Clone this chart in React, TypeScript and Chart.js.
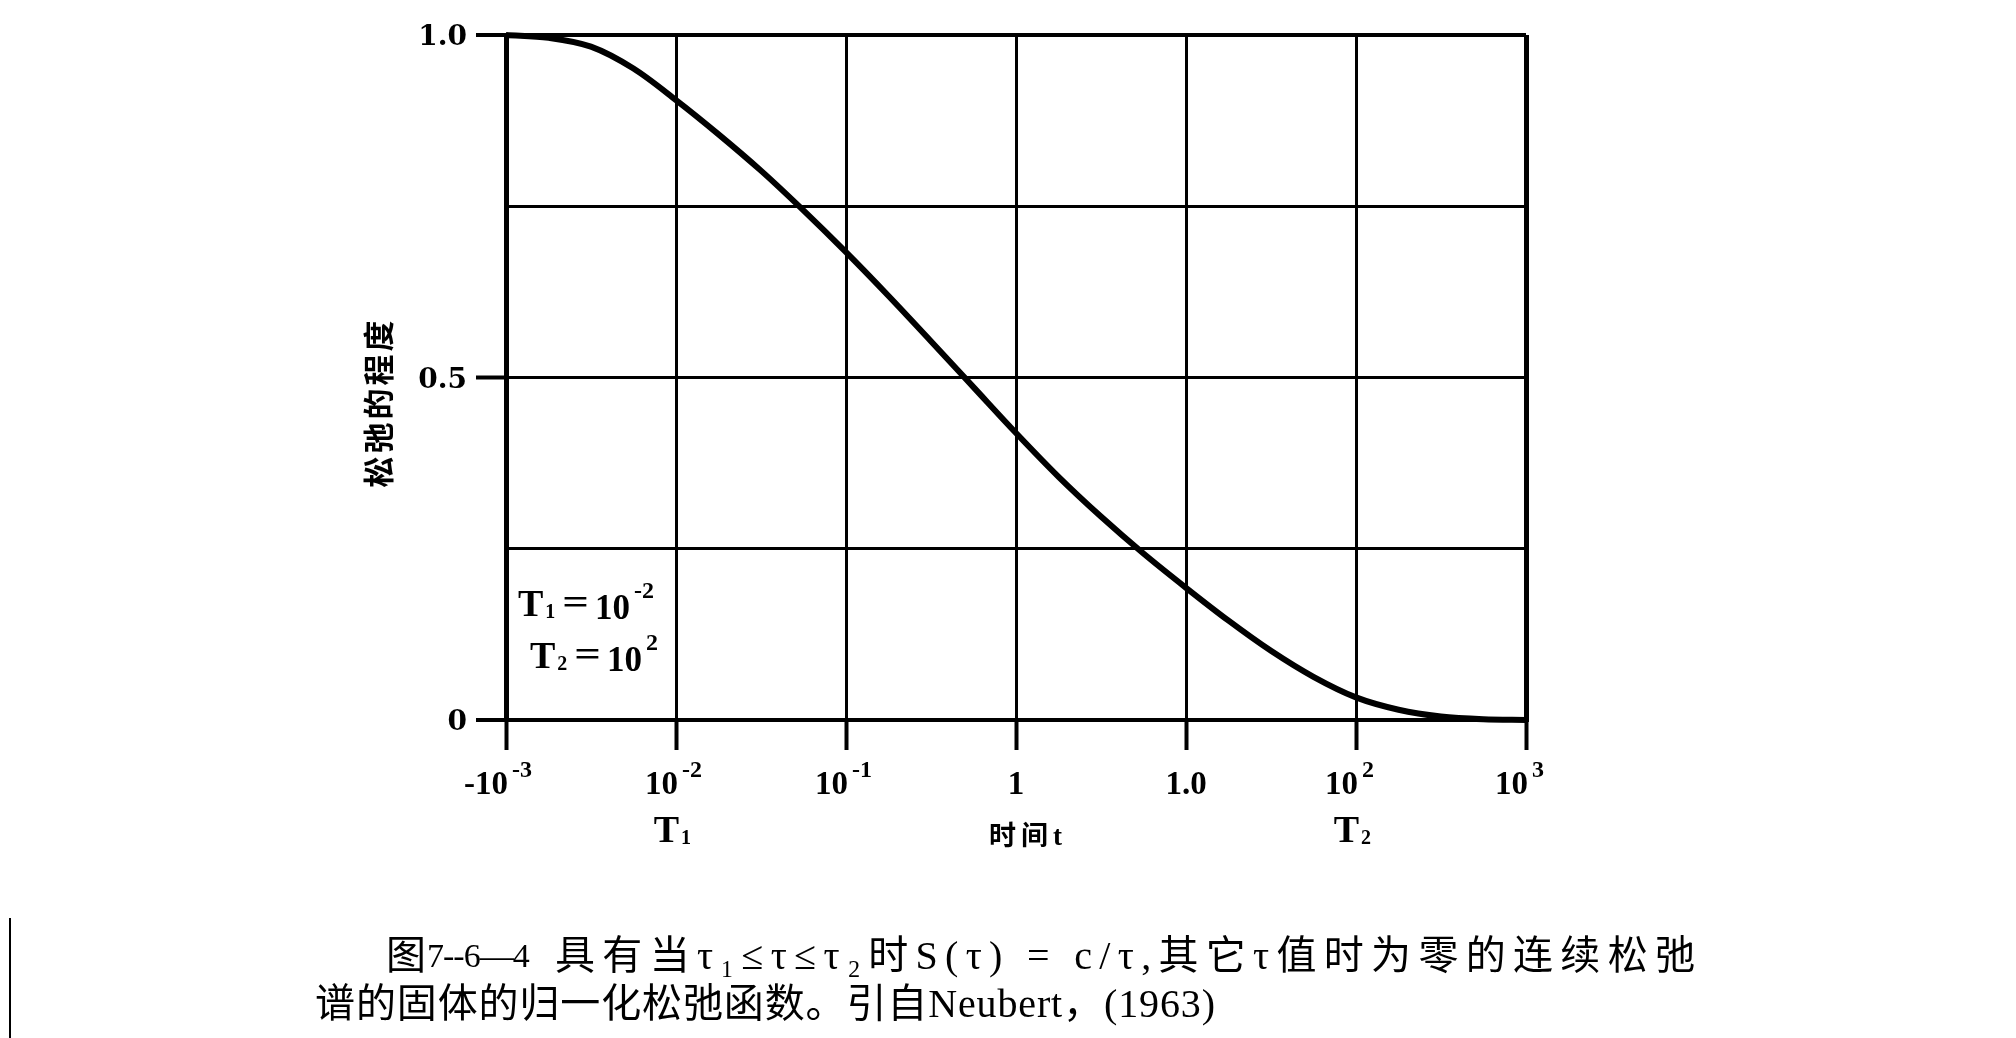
import React, { useEffect, useRef } from "react";
import { Chart, registerables } from "chart.js";

Chart.register(...registerables);

// ---- data ----
const timeValues = [
  0.001, 0.00178, 0.00316, 0.00562, 0.01, 0.0178, 0.0316, 0.0562, 0.1, 0.178, 0.316, 0.562,
  1, 1.78, 3.16, 5.62, 10, 17.8, 31.6, 56.2, 100, 178, 316, 562, 1000,
];
const relaxValues = [
  1.0, 0.996, 0.983, 0.951, 0.905, 0.855, 0.802, 0.744, 0.683, 0.619, 0.553, 0.486,
  0.419, 0.355, 0.297, 0.243, 0.193, 0.145, 0.101, 0.063, 0.033, 0.015, 0.005, 0.001, 0,
];

const xTickValues = [0.001, 0.01, 0.1, 1, 10, 100, 1000];
const xTickBases = ["-10", "10", "10", "1", "1.0", "10", "10"];
const xTickExponents = ["-3", "-2", "-1", "", "", "2", "3"];

const yTickValues = [0, 0.25, 0.5, 0.75, 1];
const yTickLabels = ["0", "", "0.5", "", "1.0"];

const yAxisTitle = "松弛的程度";
const xAxisTitle = "时间t";

const markerValues = [0.01, 100];
const markerSubs = ["1", "2"];

const noteSubs = ["1", "2"];
const noteExps = ["-2", "2"];

const captionFig = "图";
const captionNumber = "7--6—4";
const captionLine1 = "具有当τ₁≤τ≤τ₂时S(τ) = c/τ,其它τ值时为零的连续松弛";
const captionLine2 = "谱的固体的归一化松弛函数。引自Neubert，(1963)";

const SERIF = '"Liberation Serif", "DejaVu Serif", serif';
const CJK = '"Liberation Serif", "Noto Sans CJK SC", sans-serif';

function fitText(ctx: CanvasRenderingContext2D, text: string, x: number, y: number, width: number) {
  (ctx as any).letterSpacing = "0px";
  const w = ctx.measureText(text).width;
  const n = Array.from(text).length;
  const sp = n > 1 ? Math.max(-1, (width - w) / (n - 1)) : 0;
  (ctx as any).letterSpacing = sp + "px";
  ctx.textAlign = "left";
  ctx.fillText(text, x, y);
  (ctx as any).letterSpacing = "0px";
}

const textPlugin = {
  id: "paperTexts",
  afterDraw(chart: any) {
    const ctx: CanvasRenderingContext2D = chart.ctx;
    const xs = chart.scales.x;
    const ys = chart.scales.y;
    const area = chart.chartArea;
    ctx.save();
    ctx.fillStyle = "#000";

    // y tick labels
    ctx.font = 'bold 28px "DejaVu Serif"';
    ctx.textAlign = "right";
    ctx.textBaseline = "middle";
    yTickValues.forEach((v, i) => {
      if (!yTickLabels[i]) return;
      ctx.fillText(yTickLabels[i], area.left - 39, ys.getPixelForValue(v) + 3);
    });

    // x tick labels
    ctx.textBaseline = "alphabetic";
    const baseY = area.bottom + 74;
    xTickValues.forEach((v, i) => {
      const px = xs.getPixelForValue(v);
      ctx.font = `bold 33px ${SERIF}`;
      if (xTickExponents[i]) {
        ctx.textAlign = "right";
        ctx.fillText(xTickBases[i], px + 2, baseY);
        ctx.font = `bold 24px ${SERIF}`;
        ctx.textAlign = "left";
        ctx.fillText(xTickExponents[i], px + 6, baseY - 17);
      } else {
        ctx.textAlign = "center";
        ctx.fillText(xTickBases[i], px, baseY);
      }
    });

    // T1 / T2 markers
    markerValues.forEach((v, i) => {
      const px = xs.getPixelForValue(v);
      ctx.font = `bold 38px ${SERIF}`;
      ctx.textAlign = "right";
      ctx.fillText("T", px + 3, area.bottom + 122);
      ctx.font = `bold 20px ${SERIF}`;
      ctx.textAlign = "left";
      ctx.fillText(markerSubs[i], px + 5, area.bottom + 124);
    });

    // x axis title
    ctx.font = `bold 27px ${CJK}`;
    ctx.textAlign = "center";
    ctx.textBaseline = "middle";
    (ctx as any).letterSpacing = "5px";
    ctx.fillText(xAxisTitle, (area.left + area.right) / 2 + 12, area.bottom + 118);
    (ctx as any).letterSpacing = "0px";

    // y axis title (rotated)
    ctx.save();
    ctx.translate(area.left - 128, (area.top + area.bottom) / 2 + 25);
    ctx.rotate(-Math.PI / 2);
    ctx.font = 'bold 31px "Noto Sans CJK SC"';
    (ctx as any).letterSpacing = "3px";
    ctx.textAlign = "center";
    ctx.textBaseline = "middle";
    ctx.fillText(yAxisTitle, 0, 0);
    ctx.restore();

    // note inside plot
    ctx.textBaseline = "alphabetic";
    ctx.textAlign = "left";
    const noteX = [area.left + 12, area.left + 24];
    const noteY = [area.bottom - 104, area.bottom - 52];
    for (let i = 0; i < 2; i++) {
      let x = noteX[i];
      const y = noteY[i];
      ctx.font = `bold 38px ${SERIF}`;
      ctx.fillText("T", x, y);
      x += ctx.measureText("T").width + 2;
      ctx.font = `bold 20px ${SERIF}`;
      ctx.fillText(noteSubs[i], x, y + 2);
      x += ctx.measureText(noteSubs[i]).width + 7;
      ctx.font = `bold 36px ${SERIF}`;
      ctx.save();
      ctx.translate(x, y - 2);
      ctx.scale(1.3, 1);
      ctx.fillText("=", 0, 0);
      ctx.restore();
      x += ctx.measureText("=").width * 1.3 + 6;
      ctx.font = `bold 35px ${SERIF}`;
      ctx.fillText("10", x, y + 3);
      x += ctx.measureText("10").width + 4;
      ctx.font = `bold 24px ${SERIF}`;
      ctx.fillText(noteExps[i], x, y - 18);
    }

    // caption
    ctx.textBaseline = "middle";
    ctx.font = `40px ${CJK}`;
    ctx.textAlign = "left";
    ctx.fillText(captionFig, 386, 958);
    ctx.font = `34px ${CJK}`;
    fitText(ctx, captionNumber, 427, 958, 90);
    ctx.font = `40px ${CJK}`;
    fitText(ctx, captionLine1, 555, 958, 1140);
    fitText(ctx, captionLine2, 315, 1006, 900);

    ctx.restore();
  },
};

export default function App() {
  const canvasRef = useRef<HTMLCanvasElement | null>(null);

  useEffect(() => {
    const canvas = canvasRef.current;
    if (!canvas) return;
    const lastX = xTickValues.length - 1;
    const lastY = yTickValues.length - 1;
    const chart = new Chart(canvas, {
      type: "line",
      data: {
        datasets: [
          {
            data: timeValues.map((t, i) => ({ x: t, y: relaxValues[i] })),
            borderColor: "#000",
            borderWidth: 6,
            pointRadius: 0,
            cubicInterpolationMode: "monotone",
            fill: false,
            clip: false as any,
          },
        ],
      },
      options: {
        responsive: false,
        animation: false,
        devicePixelRatio: 1,
        events: [],
        layout: { padding: { left: 506, right: 490, top: 35, bottom: 318 } },
        plugins: { legend: { display: false }, tooltip: { enabled: false }, title: { display: false } },
        scales: {
          x: {
            type: "logarithmic",
            min: 0.001,
            max: 1000,
            afterBuildTicks: (scale: any) => {
              scale.ticks = xTickValues.map((v) => ({ value: v }));
            },
            afterFit: (scale: any) => {
              scale.height = 0;
            },
            ticks: { display: false },
            grid: {
              color: "#000",
              lineWidth: (c: any) => (c.index === 0 || c.index === lastX ? 5 : 3),
              drawTicks: true,
              tickLength: 30,
              tickWidth: 4,
              tickColor: "#000",
            },
            border: { display: true, color: "#000", width: 4 },
          },
          y: {
            type: "linear",
            min: 0,
            max: 1,
            afterBuildTicks: (scale: any) => {
              scale.ticks = yTickValues.map((v) => ({ value: v }));
            },
            afterFit: (scale: any) => {
              scale.width = 0;
            },
            ticks: { display: false },
            grid: {
              color: "#000",
              lineWidth: (c: any) => (c.index === 0 || c.index === lastY ? 4 : 3),
              drawTicks: true,
              tickLength: 30,
              tickWidth: 4,
              tickColor: (c: any) => (yTickLabels[c.index] ? "#000" : "rgba(0,0,0,0)"),
            },
            border: { display: true, color: "#000", width: 5 },
          },
        },
      },
      plugins: [textPlugin],
    } as any);
    return () => chart.destroy();
  }, []);

  return (
    <div style={{ position: "absolute", left: 0, top: 0, width: 2016, height: 1038, background: "#fff", overflow: "hidden" }}>
      <canvas ref={canvasRef} width={2016} height={1038} style={{ display: "block" }} />
      <div style={{ position: "absolute", left: 9, top: 918, width: 2, height: 120, background: "#000" }} />
    </div>
  );
}
